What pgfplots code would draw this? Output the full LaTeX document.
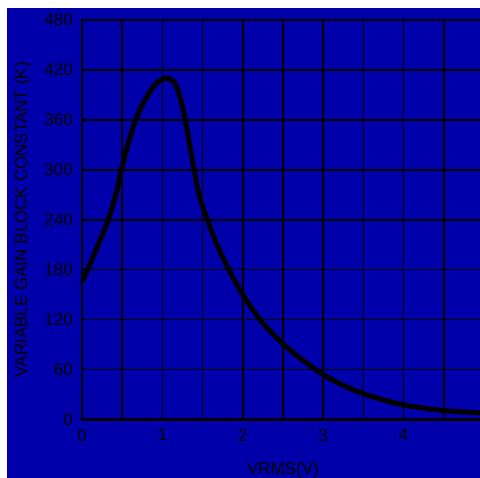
\documentclass[border=0pt]{standalone}
\usepackage{fontspec}
\setmainfont{Liberation Sans}
\usepackage{pgfplots}
\pgfplotsset{compat=1.18}
\definecolor{plotbg}{RGB}{0,0,170}

\begin{document}
\begin{tikzpicture}
\useasboundingbox (-82pt,-58.5pt) rectangle (398pt,419.5pt);
\fill[white] (-82pt,-58.5pt) rectangle (398pt,419.5pt);
\fill[plotbg] (-75pt,-58.5pt) rectangle (398pt,411.5pt);

\begin{axis}[
  at={(0pt,0pt)}, anchor=south west,
  scale only axis,
  width=402pt, height=399.5pt,
  xmin=0, xmax=5,
  ymin=0, ymax=480,
  xtick={0,1,2,3,4},
  minor xtick={0.5,1.5,2.5,3.5,4.5},
  ytick={0,60,...,480},
  grid=both,
  major grid style={black, line width=1.6pt},
  minor grid style={black, line width=1.6pt},
  axis line style={black, line width=2.4pt},
  tick style={draw=none},
  /pgf/number format/assume math mode=true,
  every tick label/.append style={font=\fontsize{17}{20}\selectfont, text=black},
  yticklabel style={inner sep=0pt, xshift=-9pt},
  xticklabel style={inner sep=0pt, yshift=-9.5pt},
  label style={font=\fontsize{17}{20}\selectfont, text=black},
  xlabel={VRMS(V)},
  ylabel={VARIABLE GAIN BLOCK CONSTANT (K)},
  xlabel style={at={(rel axis cs:0.5,0)}, anchor=base, inner sep=0pt, yshift=-54.6pt},
  ylabel style={at={([xshift=-55.1pt]rel axis cs:0,0.5)}, anchor=base, inner sep=0pt, rotate=0},
  clip=false,
]

\addplot[black, line width=5pt, smooth, tension=0.55] coordinates {
  (0,166) (0.07,180) (0.2,210) (0.327,240) (0.43,274) (0.49,300)
  (0.57,330) (0.667,360) (0.783,384) (0.907,402) (0.97,407)
  (1.01,409.5) (1.06,410) (1.095,409) (1.155,404) (1.217,388)
  (1.259,372) (1.288,358) (1.325,338) (1.391,302) (1.45,272)
  (1.5,256) (1.56,240) (1.67,212) (1.817,182) (2.0,150)
  (2.23,118) (2.5,91) (2.75,71) (3.0,54) (3.25,41) (3.5,31)
  (3.75,23.5) (4.0,17.5) (4.25,13.5) (4.5,10.6) (4.75,9) (5.0,7.8)
};

\end{axis}
\end{tikzpicture}
\end{document}
